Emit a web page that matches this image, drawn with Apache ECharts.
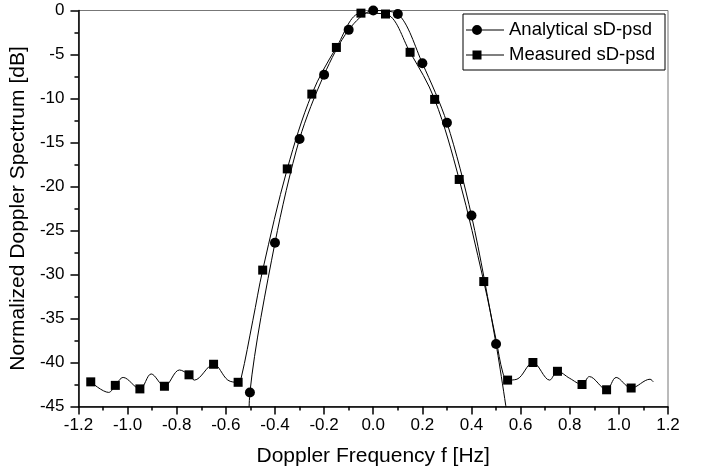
<!DOCTYPE html>
<html lang="en">
<head>
    <meta charset="UTF-8">
    <title>Doppler Spectrum</title>
    <script src="https://cdn.jsdelivr.net/npm/echarts@6/dist/echarts.min.js"></script>
    <style>
        html, body { margin: 0; padding: 0; background: #fff; }
    </style>
</head>
<body>
<div id="main" style="width: 702px;height:475px;"></div>

<script type="text/javascript">

    // analytical sD-psd, circle markers every 0.1 Hz (plus where the curve runs off the bottom)
    var anaX = [-0.507, -0.502, -0.4, -0.3, -0.2, -0.1, 0.0, 0.1, 0.2, 0.3, 0.4, 0.5, 0.556];
    var anaY = [-48, -43.4, -26.4, -14.6, -7.3, -2.2, 0.0, -0.4, -6.0, -12.75, -23.3, -37.9, -48];
    var anaMark = [0, 1, 1, 1, 1, 1, 1, 1, 1, 1, 1, 1, 0];

    // measured sD-psd, square markers
    var measMarkX = [-1.15, -1.05, -0.95, -0.85, -0.75, -0.65, -0.55, -0.45, -0.35, -0.25, -0.15, -0.05,
        0.05, 0.15, 0.25, 0.35, 0.45, 0.547, 0.65, 0.75, 0.85, 0.95, 1.05];
    var measMarkY = [-42.2, -42.6, -43.0, -42.7, -41.4, -40.2, -42.25, -29.5, -18.0, -9.5, -4.2, -0.3,
        -0.4, -4.75, -10.1, -19.2, -30.8, -42.0, -40.0, -41.0, -42.5, -43.1, -42.9];
    // measured curve between the markers (ripples in the side lobes)
    var measLineX = [-1.077, -1.018, -0.904, -0.789, -0.728, -0.592, -0.538, -0.49,
        0.5, 0.528, 0.585, 0.718, 0.8, 0.88, 0.989, 1.127, 1.14];
    var measLineY = [-43.4, -41.7, -41.3, -40.85, -42.0, -42.0, -41.8, -35.2,
        -37.4, -41.2, -41.9, -42.0, -41.8, -41.6, -41.7, -41.9, -42.2];

    var xTicks = ['-1.2', '-1.0', '-0.8', '-0.6', '-0.4', '-0.2', '0.0', '0.2', '0.4', '0.6', '0.8', '1.0', '1.2'];

    var font = 'Liberation Sans, Arial, sans-serif';

    // legend icons: line with the marker near its left end
    var lineBar = 'M0,4.5 L38,4.5 L38,5.5 L0,5.5 Z ';
    var circleIcon = 'path://' + lineBar + 'M6,5 A5,5 0 1 1 16,5 A5,5 0 1 1 6,5 Z';
    var squareIcon = 'path://' + lineBar + 'M6.5,0.5 L15.5,0.5 L15.5,9.5 L6.5,9.5 Z M0,0 L0,0 M0,10 L0,10';

    var anaData = [];
    for (var i = 0; i < anaX.length; i++) {
        var p = {value: [anaX[i], anaY[i]]};
        if (!anaMark[i]) p.symbol = 'none';
        anaData.push(p);
    }

    var measData = [];
    for (var i = 0; i < measMarkX.length; i++) {
        measData.push({value: [measMarkX[i], measMarkY[i]]});
    }
    for (var i = 0; i < measLineX.length; i++) {
        measData.push({value: [measLineX[i], measLineY[i]], symbol: 'none'});
    }
    measData.sort(function (a, b) { return a.value[0] - b.value[0]; });

    var myChart = echarts.init(document.getElementById('main'));
    myChart.setOption({
        animation: false,
        grid: {
            left: 77, right: 34, top: 10.5, bottom: 68.5,
            show: true, borderColor: '#777', borderWidth: 1
        },
        legend: {
            orient: 'vertical',
            left: 463, top: 14,
            padding: [6, 10, 5, 3],
            itemGap: 5,
            itemWidth: 38,
            itemHeight: 10,
            backgroundColor: '#fff',
            borderColor: '#000',
            borderWidth: 1,
            textStyle: {fontFamily: font, fontSize: 18.5, color: '#000', lineHeight: 20},
            data: [
                {name: 'Analytical sD-psd', icon: circleIcon},
                {name: 'Measured sD-psd', icon: squareIcon}
            ]
        },
        xAxis: {
            type: 'value',
            min: -1.2, max: 1.2, interval: 0.2,
            name: 'Doppler Frequency f [Hz]',
            nameLocation: 'middle',
            nameGap: 39,
            nameTextStyle: {fontFamily: font, fontSize: 21, color: '#000'},
            axisLine: {onZero: false, lineStyle: {color: '#000', width: 1.5}},
            axisTick: {inside: false, length: 8, lineStyle: {color: '#000', width: 1.5}},
            minorTick: {show: true, splitNumber: 2, length: 4, lineStyle: {color: '#000', width: 1.5}},
            splitLine: {show: false},
            axisLabel: {
                fontFamily: font, fontSize: 17, color: '#000', margin: 10,
                formatter: function (v) {
                    var idx = Math.round((v + 1.2) / 0.2);
                    return xTicks[idx];
                }
            }
        },
        yAxis: {
            type: 'value',
            min: -45, max: 0, interval: 5,
            name: 'Normalized Doppler Spectrum [dB]',
            nameLocation: 'middle',
            nameGap: 42,
            nameTextStyle: {fontFamily: font, fontSize: 21, color: '#000'},
            axisLine: {onZero: false, lineStyle: {color: '#000', width: 1.5}},
            axisTick: {inside: false, length: 8, lineStyle: {color: '#000', width: 1.5}},
            minorTick: {show: true, splitNumber: 2, length: 4, lineStyle: {color: '#000', width: 1.5}},
            splitLine: {show: false},
            axisLabel: {fontFamily: font, fontSize: 17, color: '#000', margin: 14}
        },
        series: [{
            name: 'Analytical sD-psd',
            type: 'line',
            data: anaData,
            smooth: 0.3,
            symbol: 'circle',
            symbolSize: 10,
            showAllSymbol: true,
            clip: true,
            color: '#000',
            lineStyle: {color: '#000', width: 1},
            itemStyle: {color: '#000'},
            z: 3
        }, {
            name: 'Measured sD-psd',
            type: 'line',
            data: measData,
            smooth: 0.35,
            symbol: 'rect',
            symbolSize: 9,
            showAllSymbol: true,
            clip: true,
            color: '#000',
            lineStyle: {color: '#000', width: 1},
            itemStyle: {color: '#000'},
            z: 3
        }]
    });

</script>
</body>
</html>
